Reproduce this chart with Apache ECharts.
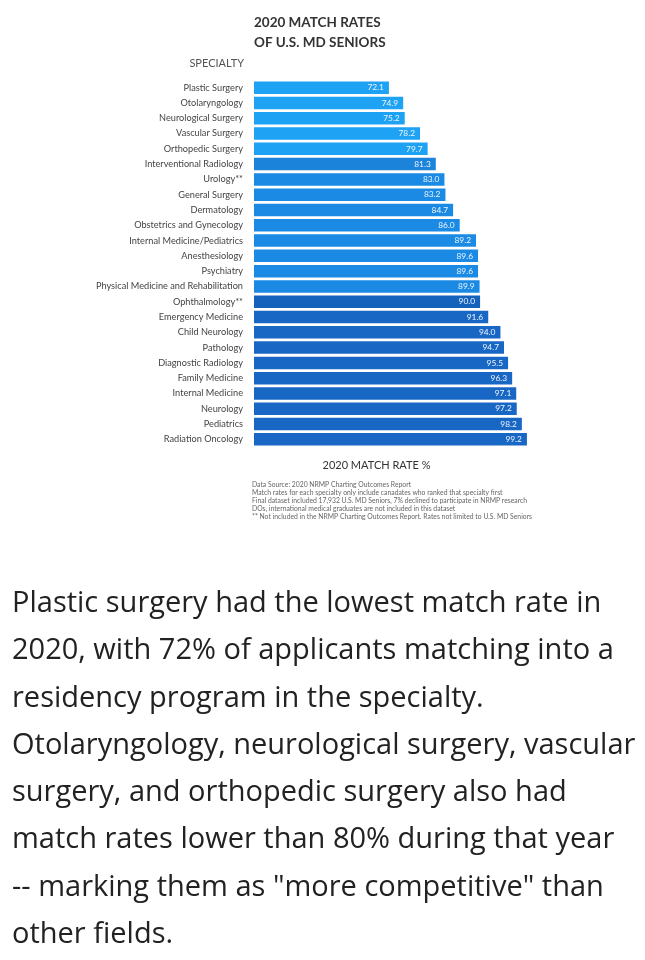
<!DOCTYPE html>
<html>
<head>
<meta charset="utf-8">
<script src="https://cdn.jsdelivr.net/npm/echarts@6/dist/echarts.min.js"></script>
<style>
  html, body { margin: 0; padding: 0; background: #fff; }
  #chart { width: 645px; height: 960px; }
</style>
</head>
<body>
<div id="chart"></div>
<script>
// data
var specialties = [
    'Plastic Surgery', 'Otolaryngology', 'Neurological Surgery', 'Vascular Surgery',
    'Orthopedic Surgery', 'Interventional Radiology', 'Urology**', 'General Surgery',
    'Dermatology', 'Obstetrics and Gynecology', 'Internal Medicine/Pediatrics',
    'Anesthesiology', 'Psychiatry', 'Physical Medicine and Rehabilitation',
    'Ophthalmology**', 'Emergency Medicine', 'Child Neurology', 'Pathology',
    'Diagnostic Radiology', 'Family Medicine', 'Internal Medicine', 'Neurology',
    'Pediatrics', 'Radiation Oncology'
];
var matchRates = [
    72.1, 74.9, 75.2, 78.2, 79.7, 81.3, 83.0, 83.2, 84.7, 86.0, 89.2, 89.6,
    89.6, 89.9, 90.0, 91.6, 94.0, 94.7, 95.5, 96.3, 97.1, 97.2, 98.2, 99.2
];
var footnotes = [
    'Data Source: 2020 NRMP Charting Outcomes Report',
    'Match rates for each specialty only include canadates who ranked that specialty first',
    'Final dataset included 17,932 U.S. MD Seniors, 7% declined to participate in NRMP research',
    'DOs, international medical graduates are not included in this dataset',
    '** Not included in the NRMP Charting Outcomes Report. Rates not limited to U.S. MD Seniors'
];
var paragraph = [
    'Plastic surgery had the lowest match rate in',
    '2020, with 72% of applicants matching into a',
    'residency program in the specialty.',
    'Otolaryngology, neurological surgery, vascular',
    'surgery, and orthopedic surgery also had',
    'match rates lower than 80% during that year',
    '-- marking them as "more competitive" than',
    'other fields.'
];

// colour bands, top to bottom
function barColor(i) {
    if (i < 5) return '#1ea2f4';
    if (i === 5) return '#1c83da';
    if (i < 14) return '#1a8ae4';
    if (i === 14) return '#1562bd';
    return '#1967c4';
}

var myChart = echarts.init(document.getElementById('chart'));

var option = {
    backgroundColor: '#fff',
    animation: false,
    title: {
        left: 249,
        top: 8,
        text: '2020 MATCH RATES\nOF U.S. MD SENIORS',
        textStyle: {
            fontFamily: 'Lato',
            fontSize: 13.5,
            fontWeight: 'bold',
            lineHeight: 19.5,
            color: '#333'
        }
    },
    grid: {
        left: 254,
        top: 80,
        width: 277,
        height: 367
    },
    xAxis: {
        type: 'value',
        min: 45.6,
        max: 100,
        name: '2020 MATCH RATE %',
        nameLocation: 'middle',
        nameGap: 13,
        nameTextStyle: {
            fontFamily: 'Lato',
            fontSize: 11,
            color: '#333',
            padding: [0, 32, 0, 0]
        },
        axisLine: { show: false },
        axisTick: { show: false },
        axisLabel: { show: false },
        splitLine: { show: false }
    },
    yAxis: {
        type: 'category',
        inverse: true,
        data: specialties,
        axisLine: { show: false },
        axisTick: { show: false },
        axisLabel: {
            margin: 11,
            fontFamily: 'Lato',
            fontSize: 9.2,
            color: '#444'
        }
    },
    series: [{
        type: 'bar',
        data: matchRates.map(function (v, i) {
            return { value: v, itemStyle: { color: barColor(i) } };
        }),
        barWidth: 12.5,
        label: {
            show: true,
            position: 'insideRight',
            distance: 5,
            fontFamily: 'Lato',
            fontSize: 8.4,
            color: '#eef5ff',
            formatter: function (p) { return p.value.toFixed(1); }
        }
    }],
    graphic: [
        {
            type: 'text',
            right: 645 - 244,
            top: 58,
            style: {
                text: 'SPECIALTY',
                fontFamily: 'Lato',
                fontSize: 11,
                fill: '#555'
            }
        },
        {
            type: 'text',
            left: 252,
            top: 481,
            style: {
                text: footnotes.join('\n'),
                fontFamily: 'Lato',
                fontSize: 6.8,
                lineHeight: 7.9,
                fill: '#666'
            }
        },
        {
            type: 'text',
            left: 12,
            top: 580,
            style: {
                text: paragraph.join('\n'),
                fontFamily: 'Open Sans',
                fontSize: 29,
                lineHeight: 47.3,
                fill: '#222'
            }
        }
    ]
};

myChart.setOption(option);
</script>
</body>
</html>
